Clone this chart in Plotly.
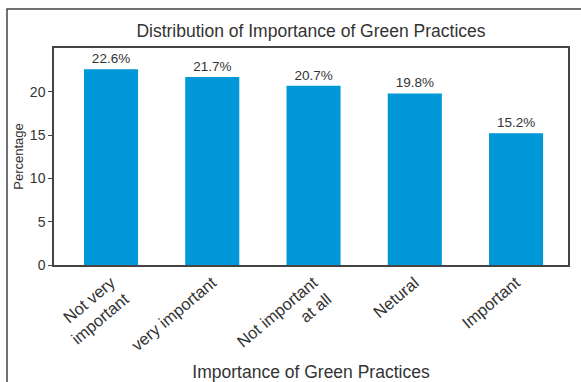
import plotly.graph_objects as go

# Survey results: share of respondents per importance level
categories = ["Not very<br>important", "very important", "Not important<br>at all", "Netural", "Important"]
percentages = [22.6, 21.7, 20.7, 19.8, 15.2]
y_ticks = [0, 5, 10, 15, 20]

FONT = "Liberation Sans Narrow, Arial Narrow, Liberation Sans, Arial, sans-serif"
TEXT = "#333333"
LINE = "#444444"

fig = go.Figure(
    go.Bar(
        x=list(range(len(categories))),
        y=percentages,
        width=0.534,
        marker=dict(color="#0098D9", line=dict(width=0)),
        text=[f"{v:.1f}%" for v in percentages],
        textposition="outside",
        textfont=dict(size=13.5, color=TEXT, family=FONT),
        cliponaxis=False,
    )
)

fig.update_layout(
    width=581,
    height=382,
    margin=dict(l=54, r=13, t=48, b=117),
    paper_bgcolor="white",
    plot_bgcolor="white",
    font=dict(family=FONT, color=TEXT),
    showlegend=False,
    title=dict(
        text="Distribution of Importance of Green Practices",
        x=0.5,
        xref="paper",
        xanchor="center",
        y=1 - 31 / 382,
        yref="container",
        yanchor="middle",
        font=dict(size=17.5, color=TEXT, family=FONT),
    ),
    xaxis=dict(
        tickmode="array",
        tickvals=list(range(len(categories))),
        ticktext=categories,
        tickangle=-40,
        range=[-0.563, 4.513],
        automargin=False,
        showgrid=False,
        zeroline=False,
        showline=True,
        linecolor=LINE,
        linewidth=1.5,
        mirror=True,
        ticks="",
        tickfont=dict(size=16.5, color=TEXT, family=FONT),
        title=dict(text="Importance of Green Practices", font=dict(size=17.5, color=TEXT, family=FONT), standoff=7),
    ),
    yaxis=dict(
        range=[0, 25.05],
        tickmode="array",
        tickvals=y_ticks,
        automargin=False,
        showgrid=False,
        zeroline=False,
        showline=True,
        linecolor=LINE,
        linewidth=1.5,
        mirror=True,
        ticks="outside",
        ticklen=4,
        tickcolor=LINE,
        tickfont=dict(size=14, color=TEXT, family=FONT),
        title=dict(text="Percentage", font=dict(size=13, color=TEXT, family=FONT), standoff=3),
    ),
    shapes=[
        dict(
            type="rect",
            xref="paper",
            yref="paper",
            x0=(7 - 54) / 514,
            x1=1.2,
            y0=-0.8,
            y1=(265 - 9) / 217,
            line=dict(color=LINE, width=1.5),
            fillcolor="rgba(0,0,0,0)",
            layer="below",
        )
    ],
)

fig.write_html("out.html")
